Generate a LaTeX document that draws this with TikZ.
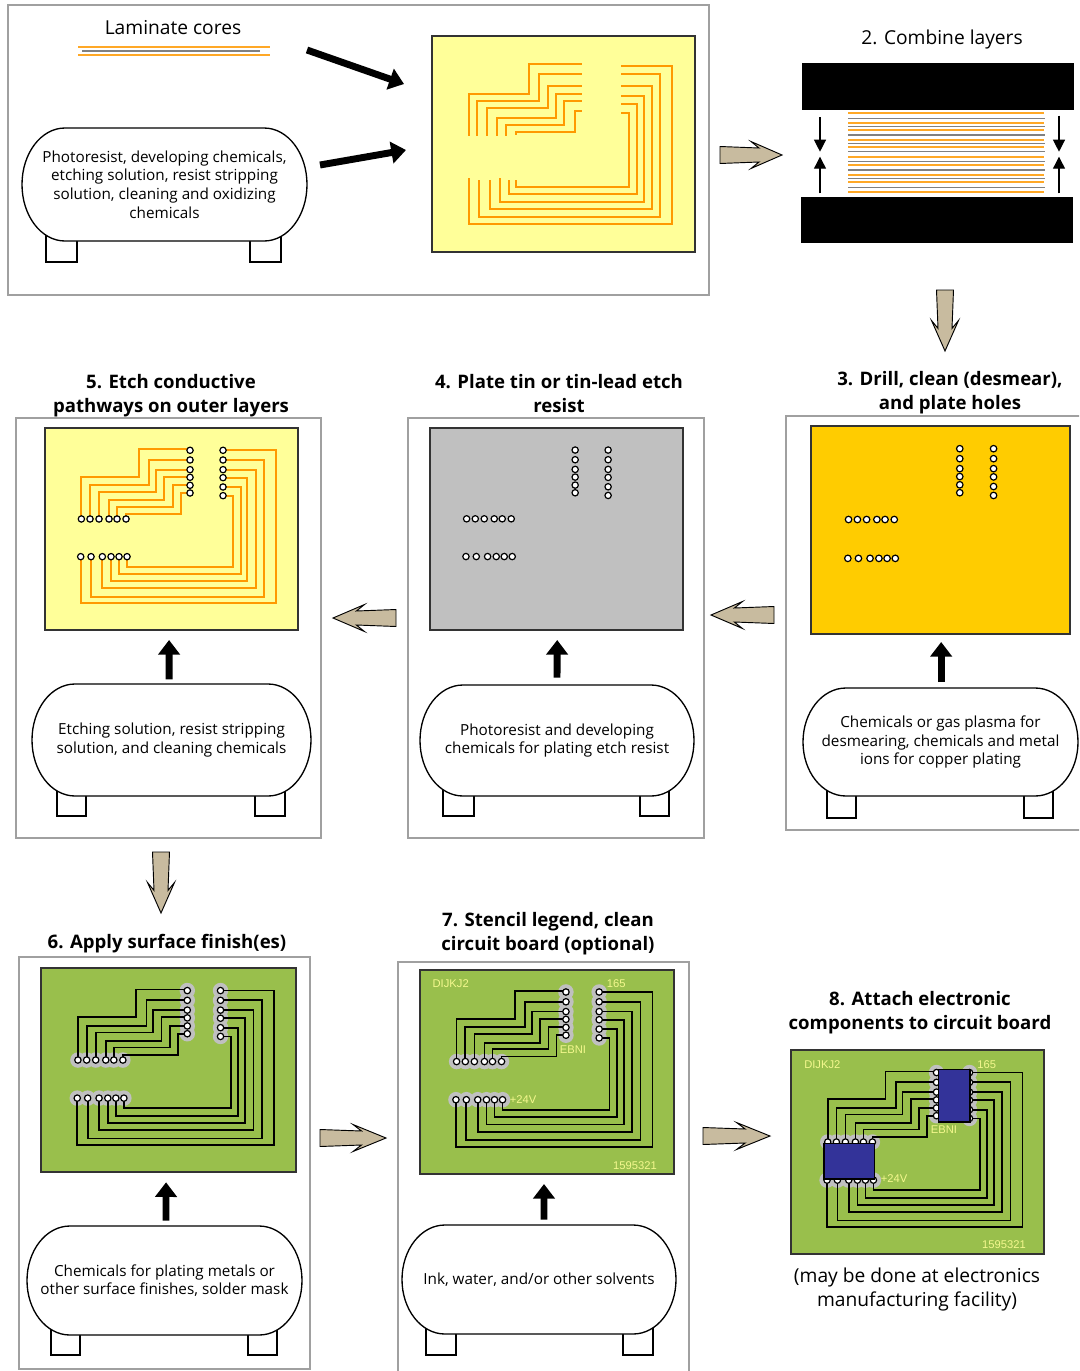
\documentclass[tikz,border=0pt]{standalone}
\usepackage{fontspec}
\setmainfont{Open Sans}
\setsansfont{Liberation Sans}
\usetikzlibrary{arrows.meta,calc}
\definecolor{pcbyellow}{HTML}{FFFF99}
\definecolor{traceor}{HTML}{FF9900}
\definecolor{platecol}{HTML}{FFCC00}
\definecolor{greycol}{HTML}{C0C0C0}
\definecolor{greencol}{HTML}{99BF4C}
\definecolor{chipcol}{HTML}{333399}
\definecolor{tancol}{HTML}{C8BB9F}
\definecolor{boxcol}{HTML}{A0A0A0}
\definecolor{legendcol}{HTML}{F4F88E}
\definecolor{framecol}{HTML}{333333}
\tikzset{
  every node/.style={inner sep=0pt,outer sep=0pt},
  outerbox/.style={draw=boxcol,line width=1.1pt},
  boardf/.style={draw=framecol,line width=1.3pt,anchor=north west},
  tankline/.style={draw=black,line width=1pt,fill=white},
  tanktext/.style={align=center,font=\fontsize{11.45}{13.9}\selectfont},
  headb/.style={align=center,font=\fontsize{13.95}{18}\selectfont\bfseries},
  headr/.style={align=center,font=\fontsize{14.4}{17.3}\selectfont},
  legendtxt/.style={text=legendcol,font=\fontsize{8.4}{9}\selectfont\sffamily},
  trace/.style={line width=1.5pt,draw=traceor,line join=miter},
  btrace/.style={line width=1.3pt,draw=black,line join=miter},
  hole/.style={draw=black,line width=.9pt,fill=white},
  halo/.style={fill=greycol,draw=none},
  bigarr/.style={line width=5.2pt,draw=black,-{Triangle[width=16pt,length=11pt]}},
  thinarr/.style={line width=.9pt,draw=black,-{Triangle[width=9pt,length=9pt]}},
  tanarr/.style={fill=tancol,draw=black,line width=.7pt,line join=miter},
  chip/.style={draw=black,line width=1.2pt,fill=chipcol,anchor=north west},
  orline/.style={draw=traceor!85!white,line width=1.3pt},
  grline/.style={draw=gray,line width=1.2pt},
}
\newcommand{\boardframe}[6]{\node[boardf,fill=#6,minimum width=#4*.75pt,minimum height=#5*.75pt] (#1) at (#2,#3) {};}
\newcommand{\holelist}[2]{%
  \foreach \yy in {66,95,124,147,171,194} \path[#1] (436,\yy) circle (#2);
  \foreach \yy in {66,95,124,148,176,202} \path[#1] (535,\yy) circle (#2);
  \foreach \xx in {110,136,163,193,217,244} \path[#1] (\xx,272) circle (#2);
  \foreach \xx in {108,139,173,199,223,247} \path[#1] (\xx,385) circle (#2);
}
\newcommand{\tracelist}[1]{%
  \draw[#1] (436,63)--(283,63)--(283,145)--(110,145)--(110,272);
  \draw[#1] (436,95)--(314,95)--(314,170)--(136,170)--(136,272);
  \draw[#1] (436,124)--(334,124)--(334,190)--(163,190)--(163,272);
  \draw[#1] (436,145)--(359,145)--(359,216)--(193,216)--(193,272);
  \draw[#1] (436,170)--(384,170)--(384,235)--(217,235)--(217,272);
  \draw[#1] (436,194)--(408,194)--(408,257)--(244,257)--(244,272);
  \draw[#1] (535,66)--(694,66)--(694,524)--(108,524)--(108,385);
  \draw[#1] (535,95)--(658,95)--(658,505)--(139,505)--(139,385);
  \draw[#1] (535,124)--(633,124)--(633,480)--(173,480)--(173,385);
  \draw[#1] (535,148)--(608,148)--(608,458)--(199,458)--(199,385);
  \draw[#1] (535,176)--(588,176)--(588,437)--(223,437)--(223,385);
  \draw[#1] (535,202)--(566,202)--(566,415)--(247,415)--(247,385);
}
\newenvironment{pcbscope}[4]{\begin{scope}[shift={(#1,#2)},xscale=#3/759,yscale=#4/605]}{\end{scope}}
\newcommand{\tank}[6]{%
  \pgfmathsetmacro{\tmid}{(#4+#5)/2}
  \pgfmathsetmacro{\tcx}{(#2+#3)/2}
  \pgfmathsetmacro{\tw}{#3-#2}
  \pgfmathsetmacro{\th}{#5-#4}
  \pgfmathsetmacro{\lx}{#2+43}
  \pgfmathsetmacro{\rx}{#3-43}
  \pgfmathsetmacro{\lc}{#2+19}
  \pgfmathsetmacro{\rc}{#3-19}
  \pgfmathsetmacro{\tu}{\tmid-(#5-#4)*.275}
  \pgfmathsetmacro{\tv}{\tmid+(#5-#4)*.275}
  \path[tankline] (\lx,#4)--(\rx,#4) .. controls (\rc,#4) and (#3,\tu) .. (#3,\tmid)
     .. controls (#3,\tv) and (\rc,#5) .. (\rx,#5) -- (\lx,#5)
     .. controls (\lc,#5) and (#2,\tv) .. (#2,\tmid)
     .. controls (#2,\tu) and (\lc,#4) .. (\lx,#4) -- cycle;
  \node[tanktext,minimum width=\tw*.75pt,minimum height=\th*.75pt] (#1) at (\tcx,\tmid) {#6};
}
\newcommand{\legs}[6]{%
  \draw[line width=1pt,fill=white] (#1,#5) rectangle (#2,#6);
  \draw[line width=1pt,fill=white] (#3,#5) rectangle (#4,#6);
}
\newcommand{\tanarrow}[4]{%
  \begin{scope}[shift={(#1,#2)},rotate=#3,xscale=#4/62]
    \path[tanarr] (0,-8.5)--(39,-7)--(31,-13.5)--(62,0)--(31,13.5)--(39,7)--(0,8.5)--cycle;
  \end{scope}}
\begin{document}
\begin{tikzpicture}[x=.75pt,y=-.75pt]
\path[use as bounding box,clip] (0,0) rectangle (1079,1371);
\fill[white] (0,0) rectangle (1079,1371);

% outer boxes
\draw[outerbox] (8,5) rectangle (709,295);
\draw[outerbox] (16,418) rectangle (321,838);
\draw[outerbox] (408,418) rectangle (704,838);
\draw[outerbox] (786,416) rectangle (1090,830);
\draw[outerbox] (19,957) rectangle (310,1369);
\draw[outerbox] (398,962) rectangle (689,1390);

% panel 1
\node[headr] (lamlabel) at (173,28) {Laminate cores};
\draw[orline] (78,47)--(270,47);
\draw[grline] (82,51)--(260,51);
\draw[orline] (78,55)--(270,55);
\legs{46}{77}{250}{281}{235}{262}
\tank{tank1}{22}{307}{128}{241}{Photoresist, developing chemicals,\\etching solution, resist stripping\\solution, cleaning and oxidizing\\chemicals}
\boardframe{b1}{431.7}{35.7}{263.3}{216.6}{pcbyellow}
\begin{scope}[shift={(430,30)},scale=1/3]
  \draw[trace] (455,102)--(297,102)--(297,193)--(116,193)--(116,318);
  \draw[trace] (455,132)--(328,132)--(328,213)--(141,213)--(141,318);
  \draw[trace] (455,168)--(353,168)--(353,235)--(171,235)--(171,318);
  \draw[trace] (455,193)--(378,193)--(378,264)--(201,264)--(201,318);
  \draw[trace] (455,213)--(403,213)--(403,285)--(227,285)--(227,318);
  \draw[trace] (455,244)--(434,244)--(434,305)--(257,305)--(257,314);
  \draw[trace] (573,107)--(727,107)--(727,582)--(116,582)--(116,445);
  \draw[trace] (573,132)--(691,132)--(691,562)--(146,562)--(146,450);
  \draw[trace] (573,168)--(666,168)--(666,537)--(181,537)--(181,450);
  \draw[trace] (573,198)--(641,198)--(641,517)--(211,517)--(211,445);
  \draw[trace] (573,223)--(621,223)--(621,492)--(237,492)--(237,450);
  \draw[trace] (573,249)--(596,249)--(596,471)--(257,471)--(257,450);
\end{scope}
\coordinate (c1a) at (307,50);
\coordinate (c1b) at (404,84);
\coordinate (c1c) at (320,165);
\coordinate (c1d) at (406,150);
\draw[bigarr] (c1a)--(c1b);
\draw[bigarr] (c1c)--(c1d);
\tanarrow{720}{155}{0}{62}

% panel 2
\node[headr] (l2) at (942,40) {2. Combine layers};
\fill[black] (801.7,62.7) rectangle (1074.3,110);
\fill[black] (801,196.7) rectangle (1073.3,243.3);
\foreach \zz in {279,310,329,359,380,410,436,466,487,517}
  \draw[orline] (848.3,20+\zz/3)--(1043.5,20+\zz/3);
\foreach \zz in {295,320,345,370,395,425,450,475,502}
  \draw[grline] (848.3,20+\zz/3)--(1044.5,20+\zz/3);
\coordinate (pa) at (820,117.3); \coordinate (pb) at (820,151.7);
\coordinate (pc) at (820,193.3); \coordinate (pd) at (820,156.7);
\coordinate (pe) at (1059,115.7); \coordinate (pf) at (1059,151.7);
\coordinate (pg) at (1059,193.3); \coordinate (ph) at (1059,156.7);
\draw[thinarr] (pa)--(pb);
\draw[thinarr] (pc)--(pd);
\draw[thinarr] (pe)--(pf);
\draw[thinarr] (pg)--(ph);
\tanarrow{945}{290}{-90}{61}

% panel 3
\node[headb] (l3) at (950,392.5) {3. Drill, clean (desmear),\\and plate holes};
\boardframe{b3}{811}{426}{259}{208}{platecol}
\begin{pcbscope}{811}{426}{259}{208}
  \holelist{hole}{9.5}
\end{pcbscope}
\legs{827}{856}{1024}{1053}{790}{818}
\tank{tank3}{803}{1078}{688}{796}{Chemicals or gas plasma for\\desmearing, chemicals and metal\\ions for copper plating}
\draw[bigarr,shorten >=6pt] ([xshift=.5pt,yshift=4.5pt]tank3.north) -- ([xshift=.5pt]b3.south);
\tanarrow{774}{615}{180}{63}

% panel 4
\node[headb] (l4) at (559,394) {4. Plate tin or tin-lead etch\\resist};
\boardframe{b4}{430}{428}{252.7}{202}{greycol}
\begin{pcbscope}{430}{428}{252.7}{202}
  \holelist{hole}{9.5}
\end{pcbscope}
\legs{443}{474}{640}{669}{790}{816}
\tank{tank4}{420}{694}{685}{796}{Photoresist and developing\\chemicals for plating etch resist}
\draw[bigarr,shorten >=7.5pt] ([yshift=5.5pt]tank4.north) -- ([xshift=.7pt]b4.south);
\tanarrow{396}{618}{180}{63}

% panel 5
\node[headb] (l5) at (171,396) {5. Etch conductive\\pathways on outer layers};
\boardframe{b5}{44.7}{428.3}{253}{201.7}{pcbyellow}
\begin{pcbscope}{44.7}{428.3}{253}{201.7}
  \tracelist{trace}
  \holelist{hole}{9.5}
\end{pcbscope}
\legs{57}{86}{255}{285}{790}{816}
\tank{tank5}{32}{311}{684}{796}{Etching solution, resist stripping\\solution, and cleaning chemicals}
\draw[bigarr,shorten >=7.5pt] ([xshift=-1.8pt,yshift=3.5pt]tank5.north) -- ([xshift=-1.6pt]b5.south);
\tanarrow{161}{852}{-90}{61}

% panel 6
\node[headb] (l6) at (167,943.5) {6. Apply surface finish(es)};
\boardframe{b6}{41}{968.3}{254.7}{204}{greencol}
\begin{pcbscope}{41}{968.3}{254.7}{204}
  \holelist{halo}{23}
  \tracelist{btrace}
  \holelist{hole}{9.5}
\end{pcbscope}
\legs{51}{80}{248}{277}{1328}{1355}
\tank{tank6}{27}{302}{1226}{1335}{Chemicals for plating metals or\\other surface finishes, solder mask}
\draw[bigarr,shorten >=7.5pt] ([yshift=4pt,xshift=1.1pt]tank6.north) -- ([xshift=-1.7pt]b6.south);
\tanarrow{320}{1138}{0}{66}

% panel 7
\node[headb] (l7) at (548,933.5) {7. Stencil legend, clean\\circuit board (optional)};
\boardframe{b7}{419.7}{969.7}{254.6}{204.3}{greencol}
\begin{pcbscope}{419.7}{969.7}{254.6}{204.3}
  \holelist{halo}{23}
  \tracelist{btrace}
  \holelist{hole}{9.5}
\end{pcbscope}
\node[legendtxt] (t7a) at (450.7,984) {DIJKJ2};
\node[legendtxt] (t7b) at (616.3,984) {165};
\node[legendtxt] (t7c) at (573,1050) {EBNI};
\node[legendtxt] (t7d) at (523,1099.5) {+24V};
\node[legendtxt] (t7e) at (635,1165.7) {1595321};
\legs{426}{456}{623}{653}{1328}{1355}
\tank{tank7}{402}{676}{1225}{1334}{Ink, water, and/or other solvents}
\draw[bigarr,shorten >=7.5pt] ([xshift=3.75pt,yshift=4pt]tank7.north) -- ([xshift=-2.25pt]b7.south);
\tanarrow{703}{1136}{0}{67}

% panel 8
\node[headb] (l8) at (920,1012.5) {8. Attach electronic\\components to circuit board};
\boardframe{b8}{791}{1050.3}{253.3}{204}{greencol}
\begin{pcbscope}{791}{1050.3}{253.3}{204}
  \holelist{halo}{23}
  \tracelist{btrace}
  \holelist{hole}{9.5}
\end{pcbscope}
\node[legendtxt] (t8a) at (822.3,1065) {DIJKJ2};
\node[legendtxt] (t8b) at (986.7,1065) {165};
\node[legendtxt] (t8c) at (944,1130) {EBNI};
\node[legendtxt] (t8d) at (894,1179) {+24V};
\node[legendtxt] (t8e) at (1004,1245) {1595321};
\node[chip,minimum width=31.7*.75pt,minimum height=52.4*.75pt] (chipa) at (938.3,1069.3) {};
\node[chip,minimum width=50.6*.75pt,minimum height=35.7*.75pt] (chipb) at (823.7,1143.3) {};
\node[headr] (note8) at (917,1289.5) {(may be done at electronics\\manufacturing facility)};
\end{tikzpicture}
\end{document}
